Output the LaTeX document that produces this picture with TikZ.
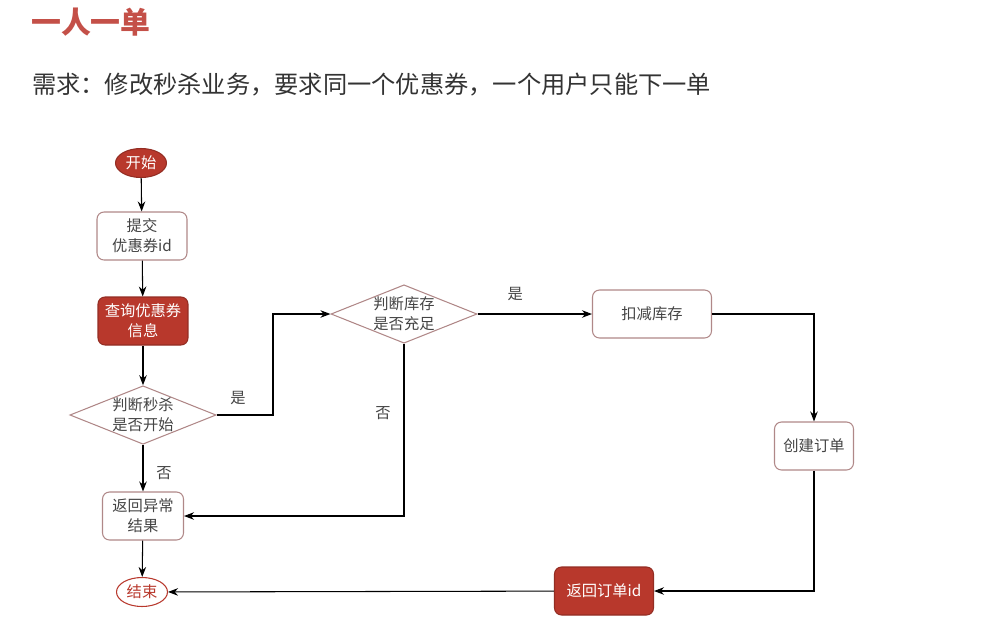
\documentclass[tikz,border=0pt]{standalone}
\usepackage{fontspec}
\setmainfont{Noto Sans CJK SC}
\usetikzlibrary{arrows.meta,shapes.geometric}

\begin{document}
\begin{tikzpicture}[
  x=0.02cm,y=-0.02cm,
  >=Stealth,
  font=\fontsize{8.7}{11.3}\selectfont,
  box/.style={draw=edge,fill=white,rounded corners=4pt,text=txt,
    minimum width=#1,minimum height=0.96cm,align=center,semithick},
  hot/.style={box=#1,draw=hotred!80!black,fill=hotred,text=white},
  cond/.style={draw=edge,fill=white,diamond,aspect=2.5,inner sep=0pt,
    minimum width=2.84cm,minimum height=1.12cm,align=center,text=txt,semithick},
  term/.style={ellipse,minimum width=1.02cm,minimum height=0.58cm,inner sep=0pt,semithick},
  flow/.style={->,semithick},
  lab/.style={text=txt}]

  \definecolor{hotred}{RGB}{184,56,44}
  \definecolor{edge}{RGB}{176,136,136}
  \definecolor{txt}{RGB}{68,68,68}
  \definecolor{titlered}{RGB}{196,80,72}

  \useasboundingbox (0,0) rectangle (1004,626);

  % ---- heading ----
  \node[anchor=west,font=\fontsize{17}{20}\selectfont\bfseries,text=titlered] (title) at (25,22) {一人一单};
  \node[anchor=west,font=\fontsize{13.8}{18}\selectfont,text=black!80] (req) at (26,85)
    {需求：修改秒杀业务，要求同一个优惠券，一个用户只能下一单};

  % ---- left column ----
  \node[term,fill=hotred,draw=hotred!80!black,text=white] (start) at (141,163) {开始};
  \node[box=1.8cm] (submit) at (142,236) {提交\\优惠券id};
  \node[hot=1.8cm] (query) at (143,321) {查询优惠券\\信息};
  \node[cond] (begun) at (143,415) {判断秒杀\\是否开始};
  \node[box=1.62cm] (fail) at (143,516) {返回异常\\结果};
  \node[term,draw=hotred,fill=white,text=hotred] (end) at (142,592) {结束};

  \draw[flow] (start) -- (submit);
  \draw[flow] (submit) -- (query);
  \draw[flow] (query) -- (begun);
  \draw[flow] (begun) -- (fail) node[lab,midway,right,xshift=4pt,yshift=-3pt] {否};
  \draw[flow] (fail) -- (end);

  % ---- stock check ----
  \node[cond] (stock) at (404,314) {判断库存\\是否充足};
  \node[box=2.38cm] (deduct) at (652,314) {扣减库存};
  \node[box=1.58cm] (order) at (814,446) {创建订单};
  \node[hot=1.98cm] (back) at (604,591) {返回订单id};

  \draw[flow] (begun.east) -- (273,415) |- (stock.west)
    node[lab,pos=0,above left,xshift=-12pt,yshift=2pt] {是};
  \draw[flow] (stock) -- (deduct) node[lab,pos=0.33,above,yshift=4pt] {是};
  \draw[flow] (stock.south) |- (fail.east) node[lab,pos=0.2,left,xshift=-4pt] {否};
  \draw[flow] (deduct.east) -| (order.north);
  \draw[flow] (order.south) |- (back.east);
  \draw[flow] (back) -- (end);
\end{tikzpicture}
\end{document}
